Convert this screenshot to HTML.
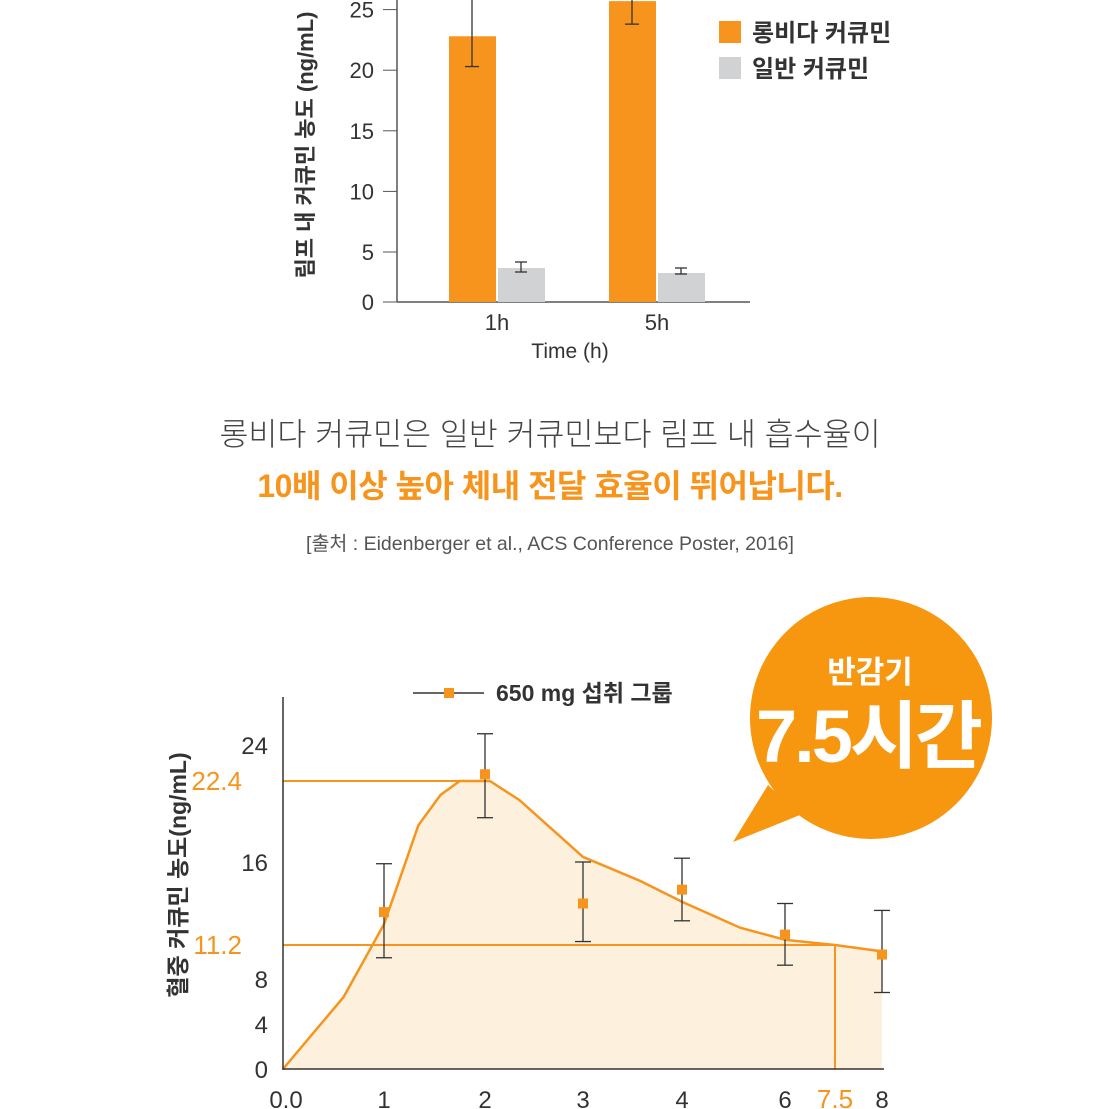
<!DOCTYPE html>
<html><head><meta charset="utf-8"><style>
html,body{margin:0;padding:0;background:#fff;}
body{width:1100px;height:1109px;overflow:hidden;position:relative;font-family:"Liberation Sans","Noto Sans CJK KR",sans-serif;}
.t{position:absolute;white-space:nowrap;}
</style></head><body>
<svg id="top" width="1100" height="370" style="position:absolute;left:0;top:0" font-family="Liberation Sans, Noto Sans CJK KR, sans-serif"></svg>
<div class="t" style="left:0;width:1100px;text-align:center;top:409px;font-size:31.5px;color:#444;font-weight:300">롱비다 커큐민은 일반 커큐민보다 림프 내 흡수율이</div>
<div class="t" style="left:0;width:1100px;text-align:center;top:461px;font-size:32px;color:#f7941d;font-weight:bold;letter-spacing:-0.5px">10배 이상 높아 체내 전달 효율이 뛰어납니다.</div>
<div class="t" style="left:0;width:1100px;text-align:center;top:527px;font-size:19.5px;color:#555">[출처 : Eidenberger et al., ACS Conference Poster, 2016]</div>
<svg id="bot" width="1100" height="1109" style="position:absolute;left:0;top:0" font-family="Liberation Sans, Noto Sans CJK KR, sans-serif"></svg>
<script>
// ---- top bar chart data ----
const barCats=["1h","5h"];
const longvidaVals=[22.8,25.7];
const longvidaErrLow=[20.3,23.8];
const longvidaErrHigh=[27.5,27.5];
const normalVals=[3.4,2.9];
const normalErrLow=[3.0,2.8];
const normalErrHigh=[4.0,3.4];
const barTicks=[0,5,10,15,20,25];
// ---- bottom line chart data ----
const markTimes=[1,2,3,4,6,8];
const markVals=[13.1,22.7,13.6,14.4,11.8,10.3];
const markLow=[10.0,19.5,11.4,12.6,9.3,6.8];
const markHigh=[15.9,24.5,16.0,16.3,13.6,13.2];
const curveTimes=[0,0.6,1,1.34,1.56,1.75,2.05,2.35,3,3.58,4,5.13,6,7.5,8];
const curveVals=[0,6.4,12.4,18.9,21.3,22.4,22.4,20.9,16.4,14.9,13.7,12.2,11.5,11.2,10.6];
const xTickLabels=["0.0","1","2","3","4","6","7.5","8"];
const xTickVals=[0,1,2,3,4,6,7.5,8];
const yTickVals=[0,4,8,11.2,16,22.4,24];
const yTickLabels=["0","4","8","11.2","16","22.4","24"];
const halfLife=7.5, halfConc=11.2, peakConc=22.4;

const NS="http://www.w3.org/2000/svg";
function mk(p,tag,attrs,txt){const e=document.createElementNS(NS,tag);for(const k in attrs)e.setAttribute(k,attrs[k]);if(txt!=null)e.textContent=txt;p.appendChild(e);return e;}
function pw(tab,v){for(let i=0;i<tab.length-1;i++){const[a,pa]=tab[i],[b,pb]=tab[i+1];if(v<=b||i==tab.length-2)return pa+(v-a)/(b-a)*(pb-pa);}}
const OR="#f7941d";
// top chart
const T=document.getElementById('top');
const tyb=[[0,302],[5,252],[30,-51]];
const by=v=>pw(tyb,v);
const groupX=[449,609];
mk(T,'line',{x1:397,y1:0,x2:397,y2:302,stroke:'#555','stroke-width':1.5});
mk(T,'line',{x1:397,y1:302,x2:750,y2:302,stroke:'#555','stroke-width':1.5});
barTicks.forEach(v=>{
 let l=mk(T,'line',{x1:383,y1:by(v),x2:397,y2:by(v),stroke:'#555','stroke-width':1});
 
 let t=mk(T,'text',{x:374,y:by(v)+8,'text-anchor':'end','font-size':22,fill:'#333'},String(v));
 
});
function errbar(p,x,y1,y2,w){mk(p,'line',{x1:x,y1:y1,x2:x,y2:y2,stroke:'#333','stroke-width':1.3});mk(p,'line',{x1:x-w,y1:y1,x2:x+w,y2:y1,stroke:'#333','stroke-width':1.3});mk(p,'line',{x1:x-w,y1:y2,x2:x+w,y2:y2,stroke:'#333','stroke-width':1.3});}
barCats.forEach((c,i)=>{
 const x=groupX[i];
 let b=mk(T,'rect',{x:x,y:by(longvidaVals[i]),width:47,height:by(0)-by(longvidaVals[i]),fill:OR});
 
 let g=mk(T,'rect',{x:x+49,y:by(normalVals[i]),width:47,height:by(0)-by(normalVals[i]),fill:'#d1d2d4'});
 
 errbar(T,x+23,by(longvidaErrLow[i]),by(longvidaErrHigh[i]),7);
 errbar(T,x+72,by(normalErrLow[i]),by(normalErrHigh[i]),6);
 let t=mk(T,'text',{x:x+48,y:330,'text-anchor':'middle','font-size':22,fill:'#333'},c);
 
});
mk(T,'text',{x:570,y:358,'text-anchor':'middle','font-size':21,fill:'#333'},'Time (h)');
mk(T,'text',{x:0,y:0,transform:'translate(313,145) rotate(-90)','text-anchor':'middle','font-size':22,'font-weight':'bold',fill:'#333'},'림프 내 커큐민 농도 (ng/mL)');
mk(T,'rect',{x:719,y:21,width:22,height:22,fill:OR});
mk(T,'text',{x:752,y:41,'font-size':24,'font-weight':'bold',fill:'#333'},'롱비다 커큐민');
mk(T,'rect',{x:719,y:57,width:22,height:22,fill:'#d1d2d4'});
mk(T,'text',{x:752,y:77,'font-size':24,'font-weight':'bold',fill:'#333'},'일반 커큐민');

// bottom chart
const B=document.getElementById('bot');
const xb=[[0,283],[1,384],[2,485],[3,583],[4,682],[6,785],[7.5,835],[8,882]];
const yb=[[0,1069],[4,1024],[8,979],[11.2,945],[16,862],[22.4,781],[24,745],[26,700]];
const X=v=>pw(xb,v),Y=v=>pw(yb,v);
// bubble
const bub=mk(B,'g',{});
mk(bub,'circle',{cx:871,cy:718,r:121,fill:'#f7960f'});
mk(bub,'polygon',{points:'768,785 800,815 733,842',fill:'#f7960f'});
mk(bub,'text',{x:870,y:683,'text-anchor':'middle','font-size':31,'font-weight':'bold',fill:'#fff'},'반감기');
mk(bub,'text',{x:868,y:762,'text-anchor':'middle','font-size':74,'font-weight':'bold',fill:'#fff','letter-spacing':'-3'},'7.5시간');
// area
let pts=curveTimes.map((t,i)=>X(t)+','+Y(curveVals[i])).join(' ');
let area=mk(B,'polygon',{points:pts+' '+X(8)+','+Y(0)+' '+X(0)+','+Y(0),fill:'#fdf0dc'});

mk(B,'line',{x1:283,y1:Y(peakConc),x2:X(2),y2:Y(peakConc),stroke:OR,'stroke-width':2});
mk(B,'line',{x1:283,y1:Y(halfConc),x2:X(halfLife),y2:Y(halfConc),stroke:OR,'stroke-width':2});
mk(B,'line',{x1:X(halfLife),y1:Y(halfConc),x2:X(halfLife),y2:Y(0),stroke:OR,'stroke-width':2});
let cl=mk(B,'polyline',{points:pts,fill:'none',stroke:OR,'stroke-width':2.5});

mk(B,'line',{x1:283,y1:697,x2:283,y2:1070,stroke:'#333','stroke-width':1.5});
mk(B,'line',{x1:283,y1:1069,x2:884,y2:1069,stroke:'#333','stroke-width':1.5});
markTimes.forEach((t,i)=>{
 errbar(B,X(t),Y(markLow[i]),Y(markHigh[i]),8);
 let m=mk(B,'rect',{x:X(t)-5,y:Y(markVals[i])-5,width:10,height:10,fill:OR});
 
});
yTickVals.forEach((v,i)=>{
 const orange=(v===11.2||v===22.4);
 let t=mk(B,'text',{x:orange?242:268,y:Y(v)+9,'text-anchor':'end','font-size':orange?26:24,fill:orange?OR:'#333','font-weight':orange?300:'normal'},yTickLabels[i]);
 
});
xTickVals.forEach((v,i)=>{
 const orange=v===7.5;
 let t=mk(B,'text',{x:X(v)+(i==0?3:0),y:1108,'text-anchor':'middle','font-size':orange?26:24,fill:orange?OR:'#333'},xTickLabels[i]);
 
});
mk(B,'text',{x:0,y:0,transform:'translate(186,875) rotate(-90)','text-anchor':'middle','font-size':23,'font-weight':'bold',fill:'#333'},'혈중 커큐민 농도(ng/mL)');
const lg=mk(B,'g',{});
mk(lg,'line',{x1:413,y1:693,x2:484,y2:693,stroke:'#333','stroke-width':1.5});
mk(lg,'rect',{x:444,y:688,width:10,height:10,fill:OR});
mk(lg,'text',{x:496,y:701,'font-size':23,'font-weight':'bold',fill:'#333'},'650 mg 섭취 그룹');
</script>
</body></html>
